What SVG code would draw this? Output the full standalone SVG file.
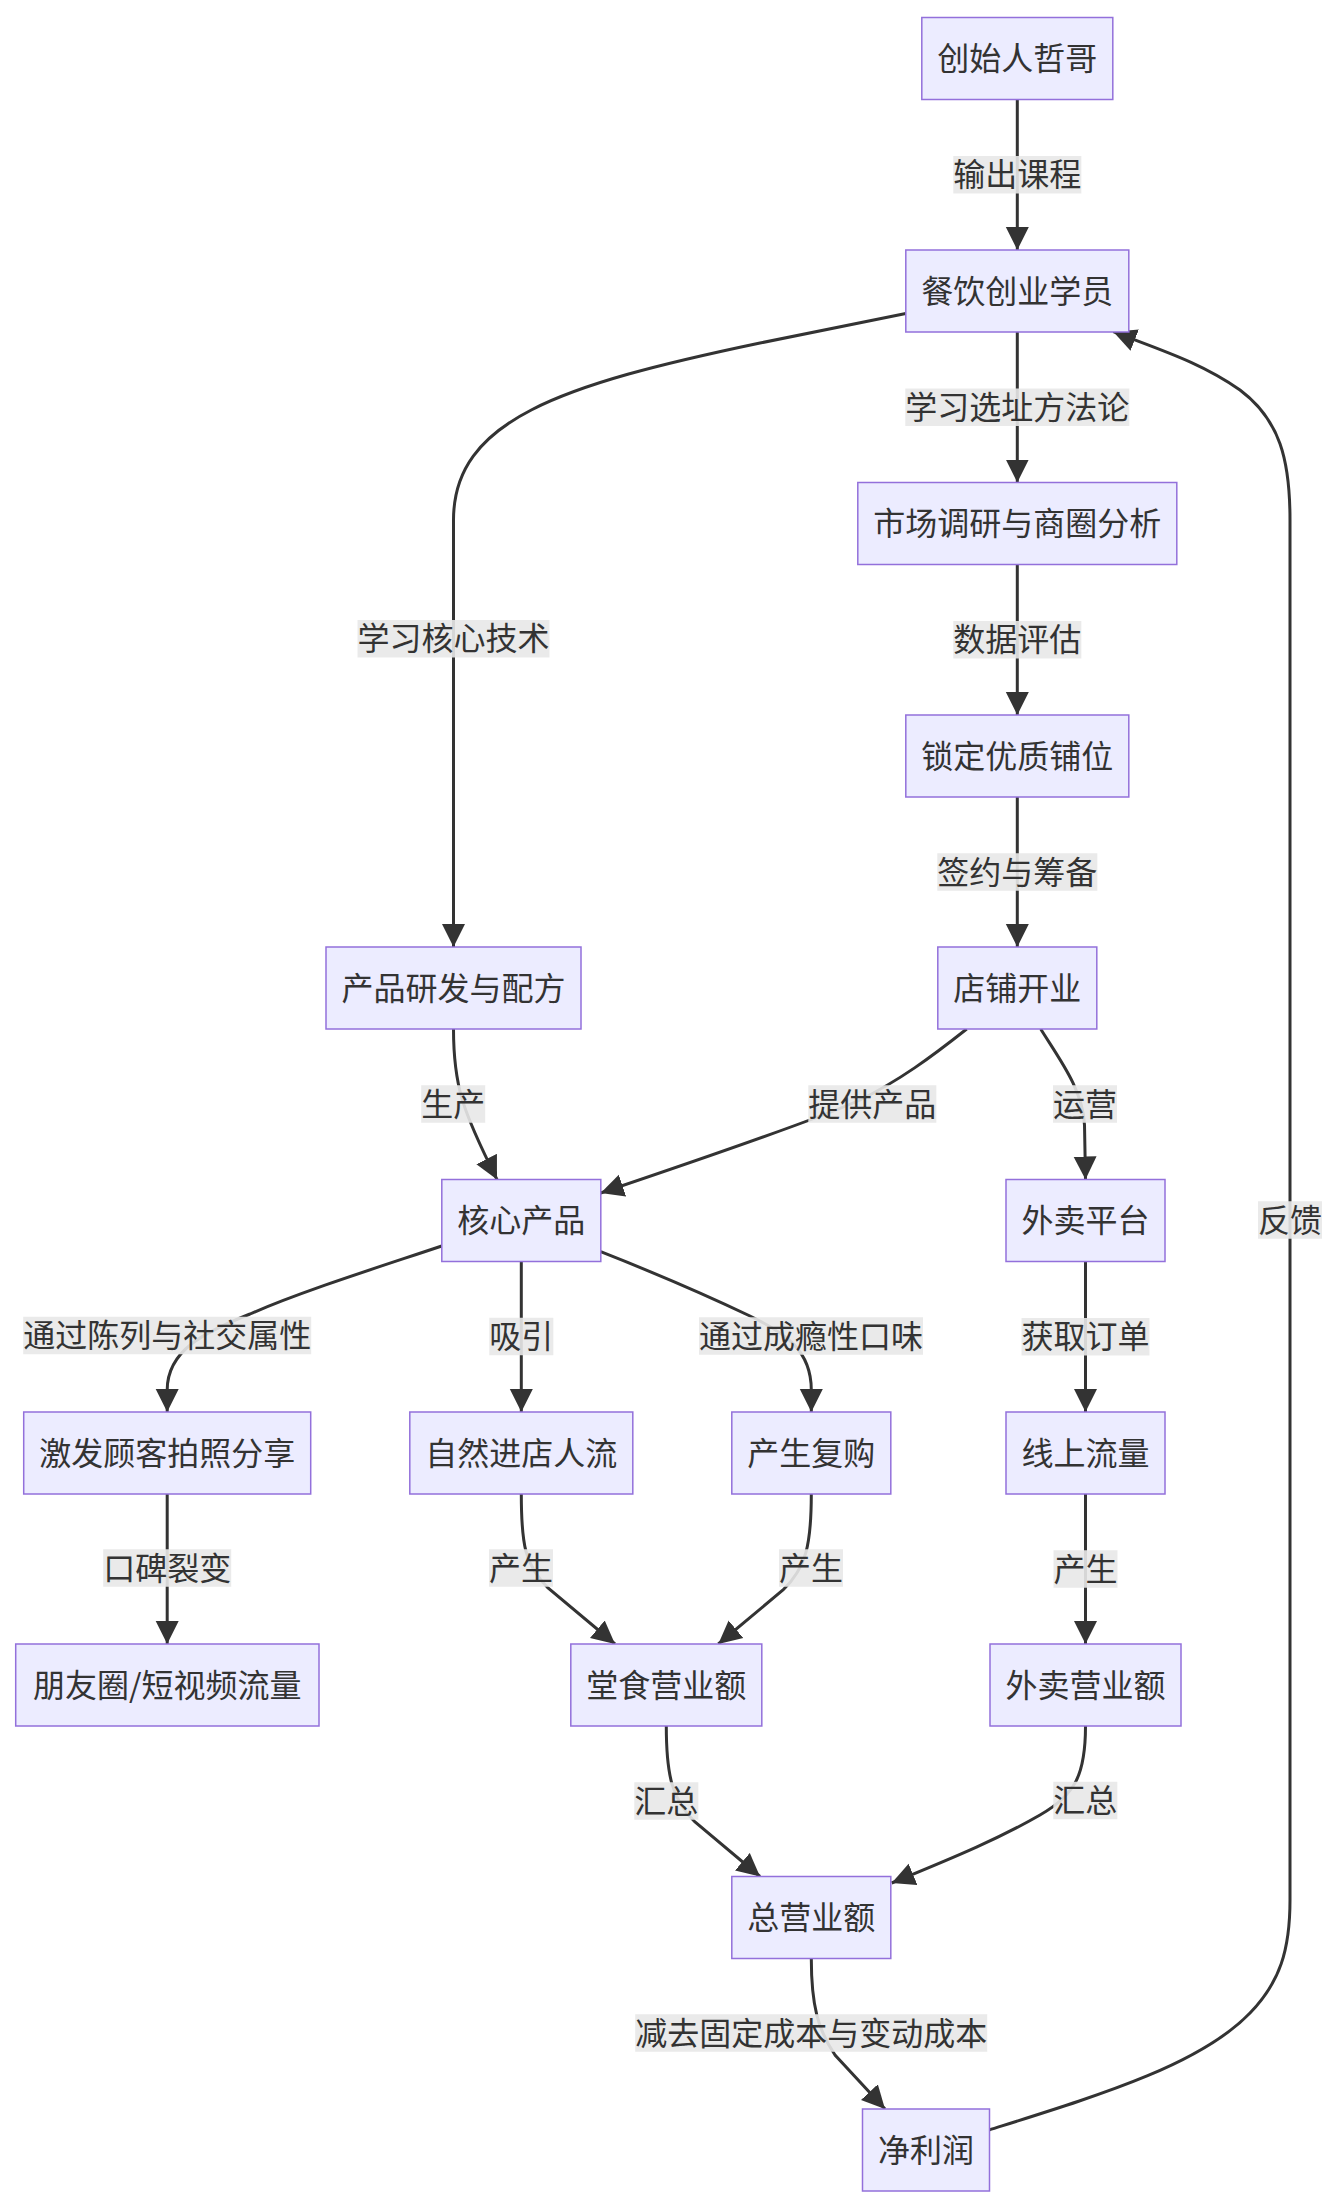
<svg xmlns="http://www.w3.org/2000/svg" width="1340" height="2208" viewBox="0 0 1340 2208">
<style>
.node rect{fill:#ECECFF;stroke:#9370DB;stroke-width:1.5}
.node text,.lbl text{font-family:"Noto Sans CJK SC","Noto Sans",sans-serif;font-size:32px;fill:#333;text-anchor:middle;dominant-baseline:central;transform:translateY(-2.5px)}
.edges path{fill:none;stroke:#333;stroke-width:3;marker-end:url(#arr)}
.lbl rect{fill:#e8e8e8;fill-opacity:0.9}
</style>
<defs>
<marker id="arr" viewBox="0 0 10 10" refX="10" refY="5" markerUnits="userSpaceOnUse" markerWidth="23" markerHeight="24" orient="auto">
<path d="M0,0 L10,5 L0,10 z" fill="#333"/>
</marker>
</defs>
<rect width="1340" height="2208" fill="#fff"/>
<g id="edges" class="edges">
<path d="M1017.3,99.5 L1017.3,250"/>
<path d="M1017.3,332 L1017.3,482.5"/>
<path d="M1017.3,564.5 L1017.3,715"/>
<path d="M1017.3,797 L1017.3,947"/>
<path d="M905.8,313.5 L760,343 C560,385 453.5,420 453.5,520 L453.5,947"/>
<path d="M453.5,1029 C453.5,1085 462,1110 497,1179.5"/>
<path d="M966.7,1029 C930,1058 900,1080 860,1100 C820,1118 740,1146 600.7,1193"/>
<path d="M1040.7,1029 C1060,1060 1083,1090 1084.5,1125 L1085.5,1179.5"/>
<path d="M1085.5,1261.5 L1085.5,1412"/>
<path d="M441.8,1246 C370,1270 300,1292 250,1314 C205,1332 167.2,1350 167.2,1390 L167.2,1412"/>
<path d="M521.3,1261.5 L521.3,1412"/>
<path d="M600.7,1251.7 C660,1275 710,1297 750,1316 C785,1333 811.3,1350 811.3,1390 L811.3,1412"/>
<path d="M1085.5,1494 L1085.5,1644"/>
<path d="M167.2,1494 L167.2,1644"/>
<path d="M521.3,1494 C521.3,1545 525,1565 548,1588 L615,1644"/>
<path d="M811.3,1494 C811.3,1545 806,1568 783,1590 L718.3,1644"/>
<path d="M666.3,1726 C666.3,1775 672,1800 695,1822 L760,1876.5"/>
<path d="M1085.5,1726 C1085.5,1775 1075,1795 1040,1815 C1000,1838 960,1855 891.7,1883"/>
<path d="M811.3,1958.5 C811.3,2005 818,2030 835,2055 L885,2109"/>
<path d="M989,2130 C1100,2095 1200,2065 1250,2013 C1280,1982 1290,1950 1290,1900 L1290,520 C1290,460 1280,420 1240,390 C1200,362 1160,350 1113.3,331.7"/>
</g>
<g id="edge-labels">
<g class="lbl"><rect x="953.3" y="156" width="128" height="37.5"/><text x="1017.3" y="174.75">输出课程</text></g>
<g class="lbl"><rect x="905.3" y="388.5" width="224" height="37.5"/><text x="1017.3" y="407.25">学习选址方法论</text></g>
<g class="lbl"><rect x="357.5" y="620" width="192" height="37.5"/><text x="453.5" y="638.75">学习核心技术</text></g>
<g class="lbl"><rect x="953.3" y="621" width="128" height="37.5"/><text x="1017.3" y="639.75">数据评估</text></g>
<g class="lbl"><rect x="937.3" y="853.25" width="160" height="37.5"/><text x="1017.3" y="872">签约与筹备</text></g>
<g class="lbl"><rect x="421.2" y="1085.25" width="64" height="37.5"/><text x="453.2" y="1104">生产</text></g>
<g class="lbl"><rect x="808.3" y="1085.25" width="128" height="37.5"/><text x="872.3" y="1104">提供产品</text></g>
<g class="lbl"><rect x="1053" y="1085.25" width="64" height="37.5"/><text x="1085" y="1104">运营</text></g>
<g class="lbl"><rect x="1021.5" y="1318" width="128" height="37.5"/><text x="1085.5" y="1336.75">获取订单</text></g>
<g class="lbl"><rect x="23.2" y="1316.75" width="288" height="37.5"/><text x="167.2" y="1335.5">通过陈列与社交属性</text></g>
<g class="lbl"><rect x="489.3" y="1317.75" width="64" height="37.5"/><text x="521.3" y="1336.5">吸引</text></g>
<g class="lbl"><rect x="699" y="1317.25" width="224" height="37.5"/><text x="811" y="1336">通过成瘾性口味</text></g>
<g class="lbl"><rect x="103.2" y="1549.25" width="128" height="37.5"/><text x="167.2" y="1568">口碑裂变</text></g>
<g class="lbl"><rect x="489" y="1549.25" width="64" height="37.5"/><text x="521" y="1568">产生</text></g>
<g class="lbl"><rect x="779" y="1549.25" width="64" height="37.5"/><text x="811" y="1568">产生</text></g>
<g class="lbl"><rect x="1053.5" y="1550.25" width="64" height="37.5"/><text x="1085.5" y="1569">产生</text></g>
<g class="lbl"><rect x="634.3" y="1782.25" width="64" height="37.5"/><text x="666.3" y="1801">汇总</text></g>
<g class="lbl"><rect x="1053.3" y="1781.75" width="64" height="37.5"/><text x="1085.3" y="1800.5">汇总</text></g>
<g class="lbl"><rect x="635.2" y="2014.25" width="352" height="37.5"/><text x="811.2" y="2033">减去固定成本与变动成本</text></g>
<g class="lbl"><rect x="1258" y="1201.25" width="64" height="37.5"/><text x="1290" y="1220">反馈</text></g>
</g>
<g id="n-founder" class="node"><rect x="921.8" y="17.5" width="191" height="82"/><text x="1017.3" y="58.5">创始人哲哥</text></g>
<g id="n-student" class="node"><rect x="905.8" y="250" width="223" height="82"/><text x="1017.3" y="291">餐饮创业学员</text></g>
<g id="n-research" class="node"><rect x="857.8" y="482.5" width="319" height="82"/><text x="1017.3" y="523.5">市场调研与商圈分析</text></g>
<g id="n-lock" class="node"><rect x="905.8" y="715" width="223" height="82"/><text x="1017.3" y="756">锁定优质铺位</text></g>
<g id="n-open" class="node"><rect x="937.8" y="947" width="159" height="82"/><text x="1017.3" y="988">店铺开业</text></g>
<g id="n-rd" class="node"><rect x="326" y="947" width="255" height="82"/><text x="453.5" y="988">产品研发与配方</text></g>
<g id="n-core" class="node"><rect x="441.8" y="1179.5" width="159" height="82"/><text x="521.3" y="1220.5">核心产品</text></g>
<g id="n-delivery" class="node"><rect x="1006" y="1179.5" width="159" height="82"/><text x="1085.5" y="1220.5">外卖平台</text></g>
<g id="n-share" class="node"><rect x="23.7" y="1412" width="287" height="82"/><text x="167.2" y="1453">激发顾客拍照分享</text></g>
<g id="n-walkin" class="node"><rect x="409.8" y="1412" width="223" height="82"/><text x="521.3" y="1453">自然进店人流</text></g>
<g id="n-repeat" class="node"><rect x="731.8" y="1412" width="159" height="82"/><text x="811.3" y="1453">产生复购</text></g>
<g id="n-online" class="node"><rect x="1006" y="1412" width="159" height="82"/><text x="1085.5" y="1453">线上流量</text></g>
<g id="n-social" class="node"><rect x="15.7" y="1644" width="303.3" height="82"/><text x="167.3" y="1685">朋友圈/短视频流量</text></g>
<g id="n-dinein" class="node"><rect x="570.8" y="1644" width="191" height="82"/><text x="666.3" y="1685">堂食营业额</text></g>
<g id="n-takeout" class="node"><rect x="990" y="1644" width="191" height="82"/><text x="1085.5" y="1685">外卖营业额</text></g>
<g id="n-total" class="node"><rect x="731.8" y="1876.5" width="159" height="82"/><text x="811.3" y="1917.5">总营业额</text></g>
<g id="n-profit" class="node"><rect x="862.5" y="2109" width="127" height="82"/><text x="926" y="2150">净利润</text></g>
</svg>
